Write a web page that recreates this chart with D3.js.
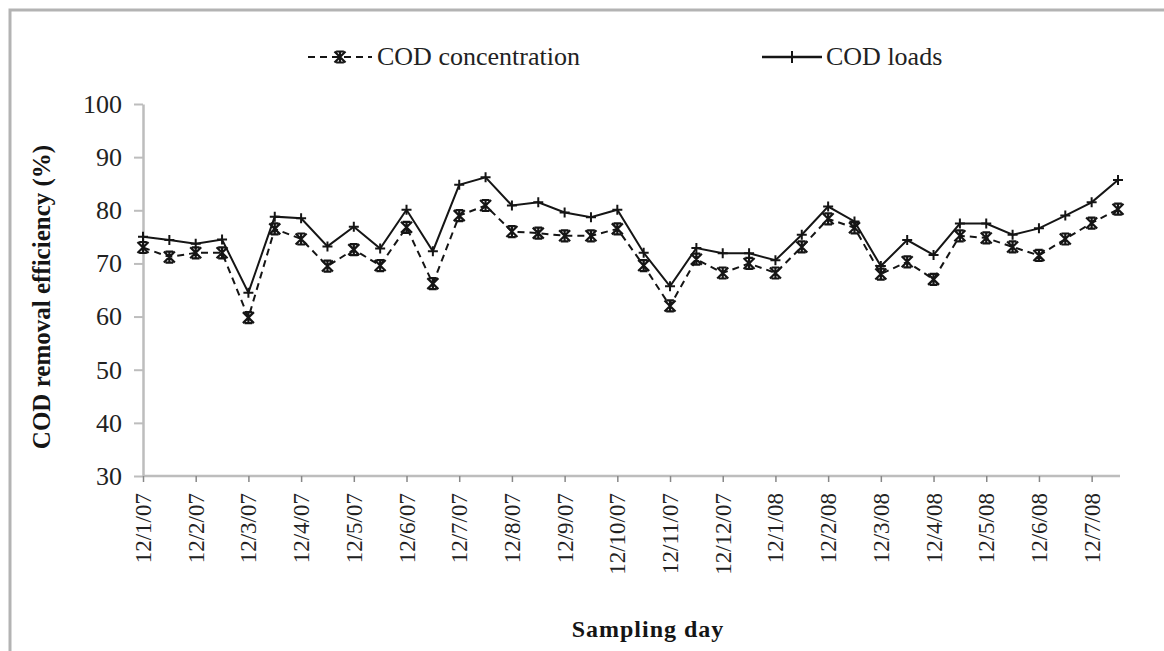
<!DOCTYPE html>
<html>
<head>
<meta charset="utf-8">
<script src="https://cdn.jsdelivr.net/npm/d3@7/dist/d3.min.js"></script>
<style>
  html, body { margin: 0; padding: 0; background: #fff; }
  svg { display: block; }
</style>
</head>
<body>
<svg id="chart" width="1164" height="651"></svg>
<script>
// Date labels shown under every second sampling
const tickLabels = ["12/1/07", "12/2/07", "12/3/07", "12/4/07", "12/5/07", "12/6/07",
  "12/7/07", "12/8/07", "12/9/07", "12/10/07", "12/11/07", "12/12/07",
  "12/1/08", "12/2/08", "12/3/08", "12/4/08", "12/5/08", "12/6/08", "12/7/08"];

// COD removal efficiency (%) per sampling
const codConcentration = [73.0, 71.2, 72.0, 72.0, 59.8, 76.5, 74.6, 69.5, 72.6, 69.6,
  76.8, 66.2, 79.0, 80.9, 76.0, 75.7, 75.2, 75.2, 76.5, 69.6,
  62.0, 70.8, 68.2, 70.0, 68.2, 73.1, 78.4, 76.7, 68.0, 70.3,
  67.0, 75.2, 74.8, 73.1, 71.5, 74.6, 77.6, 80.2];
const codLoads = [75.0, 74.4, 73.7, 74.5, 64.5, 78.8, 78.5, 73.2, 76.9, 72.8,
  80.1, 72.3, 84.8, 86.2, 80.9, 81.5, 79.6, 78.7, 80.1, 72.0,
  65.7, 72.9, 71.9, 71.9, 70.6, 75.4, 80.7, 77.9, 69.5, 74.4,
  71.6, 77.5, 77.5, 75.4, 76.6, 79.0, 81.5, 85.7];

const yTicks = [30, 40, 50, 60, 70, 80, 90, 100];

const FONT = "Liberation Serif";
const svg = d3.select("#chart");
const axisColor = "#bdbdbd";
const ink = "#151515";

// outer frame
svg.append("rect")
  .attr("x", 10).attr("y", 10).attr("width", 1200).attr("height", 700)
  .attr("fill", "none").attr("stroke", "#b3b3b3").attr("stroke-width", 3);

const plotLeft = 143, plotRight = 1118, plotTop = 104, plotBottom = 476;

const x = d3.scalePoint()
  .domain(d3.range(codLoads.length))
  .range([plotLeft, plotRight]);
const y = d3.scaleLinear().domain([30, 100]).range([plotBottom, plotTop]);

// y axis
const yAxis = svg.append("g")
  .attr("transform", `translate(${plotLeft},0)`)
  .call(d3.axisLeft(y).tickValues(yTicks).tickSize(9).tickSizeOuter(0).tickPadding(12));
yAxis.attr("font-family", FONT).attr("font-size", 26);
yAxis.select(".domain").attr("stroke", axisColor).attr("stroke-width", 2.5);
yAxis.selectAll(".tick line").attr("stroke", axisColor).attr("stroke-width", 2);
yAxis.selectAll(".tick text")
  .attr("font-family", FONT).attr("font-size", 26).attr("fill", "#222");

// x axis
const xAxis = svg.append("g")
  .attr("transform", `translate(0,${plotBottom})`)
  .call(d3.axisBottom(x)
    .tickValues(d3.range(0, codLoads.length, 2))
    .tickFormat(i => tickLabels[i / 2])
    .tickSize(6).tickSizeOuter(0));
xAxis.attr("font-family", FONT).attr("font-size", 23);
xAxis.select(".domain").attr("stroke", axisColor).attr("stroke-width", 2.5)
  .attr("d", `M${plotLeft},0H${plotRight + 2}`);
xAxis.selectAll(".tick line").attr("stroke", "#888").attr("stroke-width", 1.5);
xAxis.selectAll(".tick text")
  .attr("font-family", FONT).attr("font-size", 23).attr("fill", "#222")
  .attr("text-anchor", "end")
  .attr("dominant-baseline", "central")
  .attr("dy", null)
  .attr("y", 0)
  .attr("transform", "translate(0,17) rotate(-90)");

// axis titles
svg.append("text")
  .attr("transform", "translate(50,297) rotate(-90)")
  .attr("text-anchor", "middle")
  .attr("font-family", FONT).attr("font-weight", "bold").attr("font-size", 25)
  .attr("fill", ink)
  .text("COD removal efficiency (%)");
svg.append("text")
  .attr("x", 648).attr("y", 637)
  .attr("text-anchor", "middle")
  .attr("font-family", FONT).attr("font-weight", "bold").attr("font-size", 24)
  .attr("letter-spacing", 1)
  .attr("fill", ink)
  .text("Sampling day");

// series
const line = d3.line().x((d, i) => x(i)).y(d => y(d));

svg.append("path").datum(codConcentration)
  .attr("d", line).attr("fill", "none")
  .attr("stroke", ink).attr("stroke-width", 2)
  .attr("stroke-dasharray", "7,5");
svg.append("path").datum(codLoads)
  .attr("d", line).attr("fill", "none")
  .attr("stroke", ink).attr("stroke-width", 2);

function starMarker(g, cx, cy, r) {
  g.append("path")
    .attr("d", `M${cx - r},${cy - r}L${cx + r},${cy + r}M${cx - r},${cy + r}L${cx + r},${cy - r}M${cx},${cy - r}V${cy + r}M${cx - r * 0.7},${cy - r}H${cx + r * 0.7}M${cx - r * 0.7},${cy + r}H${cx + r * 0.7}`)
    .attr("stroke", ink).attr("stroke-width", 2.2).attr("fill", "none");
}
function plusMarker(g, cx, cy, r) {
  g.append("path")
    .attr("d", `M${cx - r},${cy}H${cx + r}M${cx},${cy - r}V${cy + r}`)
    .attr("stroke", ink).attr("stroke-width", 2).attr("fill", "none");
}

const mConc = svg.append("g");
codConcentration.forEach((v, i) => starMarker(mConc, x(i), y(v), 5.5));
const mLoads = svg.append("g");
codLoads.forEach((v, i) => plusMarker(mLoads, x(i), y(v), 5));

// legend
const lg = svg.append("g");
lg.append("line").attr("x1", 308).attr("x2", 372).attr("y1", 57).attr("y2", 57)
  .attr("stroke", ink).attr("stroke-width", 2).attr("stroke-dasharray", "7,5");
starMarker(lg, 340, 57, 5.5);
lg.append("text").attr("x", 377).attr("y", 65)
  .attr("font-family", FONT).attr("font-size", 26).attr("fill", "#222")
  .text("COD concentration");
lg.append("line").attr("x1", 762).attr("x2", 822).attr("y1", 57).attr("y2", 57)
  .attr("stroke", ink).attr("stroke-width", 2.5);
plusMarker(lg, 792, 57, 6);
lg.append("text").attr("x", 826).attr("y", 65)
  .attr("font-family", FONT).attr("font-size", 26).attr("fill", "#222")
  .text("COD loads");
</script>
</body>
</html>
